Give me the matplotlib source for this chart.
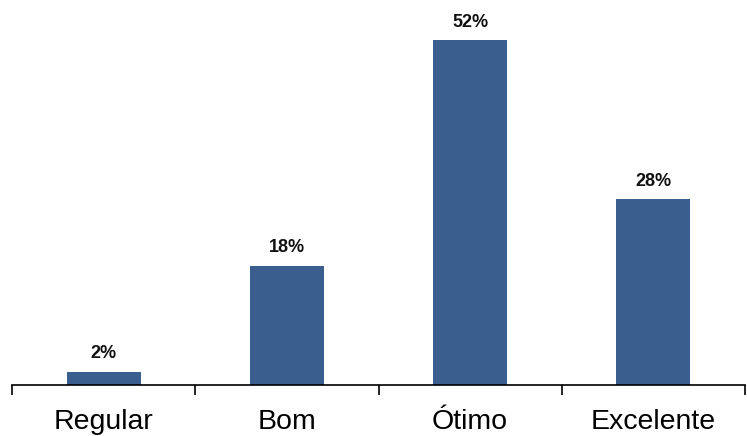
import matplotlib
matplotlib.use("Agg")
import matplotlib.pyplot as plt
import numpy as np

categories = ["Regular", "Bom", "Ótimo", "Excelente"]
values = [2, 18, 52, 28]
labels = ["2%", "18%", "52%", "28%"]

plt.rcParams['font.family'] = ['Liberation Sans', 'DejaVu Sans']

fig = plt.figure(figsize=(7.47, 4.36), dpi=100)
ax = fig.add_axes([12/747, 51/436, 733/747, 385/436])
x = np.arange(len(categories))
ax.bar(x, values, width=0.405, color="#3A5F8F")
ax.set_xlim(-0.5, len(categories) - 0.5)
ax.set_ylim(0, 58.06)
for xi, v, l in zip(x, values, labels):
    ax.text(xi, v + 1.4, l, ha="center", va="bottom", fontsize=13, fontweight="bold", color="#111111")

for s in ["top", "right", "left"]:
    ax.spines[s].set_visible(False)
ax.spines["bottom"].set_linewidth(1.2)
ax.set_yticks([])
ax.set_xticks(x)
ax.set_xticklabels(categories, fontsize=20.5)
ax.tick_params(axis="x", which="major", length=0, pad=17)
ax.set_xticks(np.arange(-0.5, len(categories)), minor=True)
ax.tick_params(axis="x", which="minor", length=7, width=1.2, direction="out")

fig.savefig("out.png", dpi=100)
